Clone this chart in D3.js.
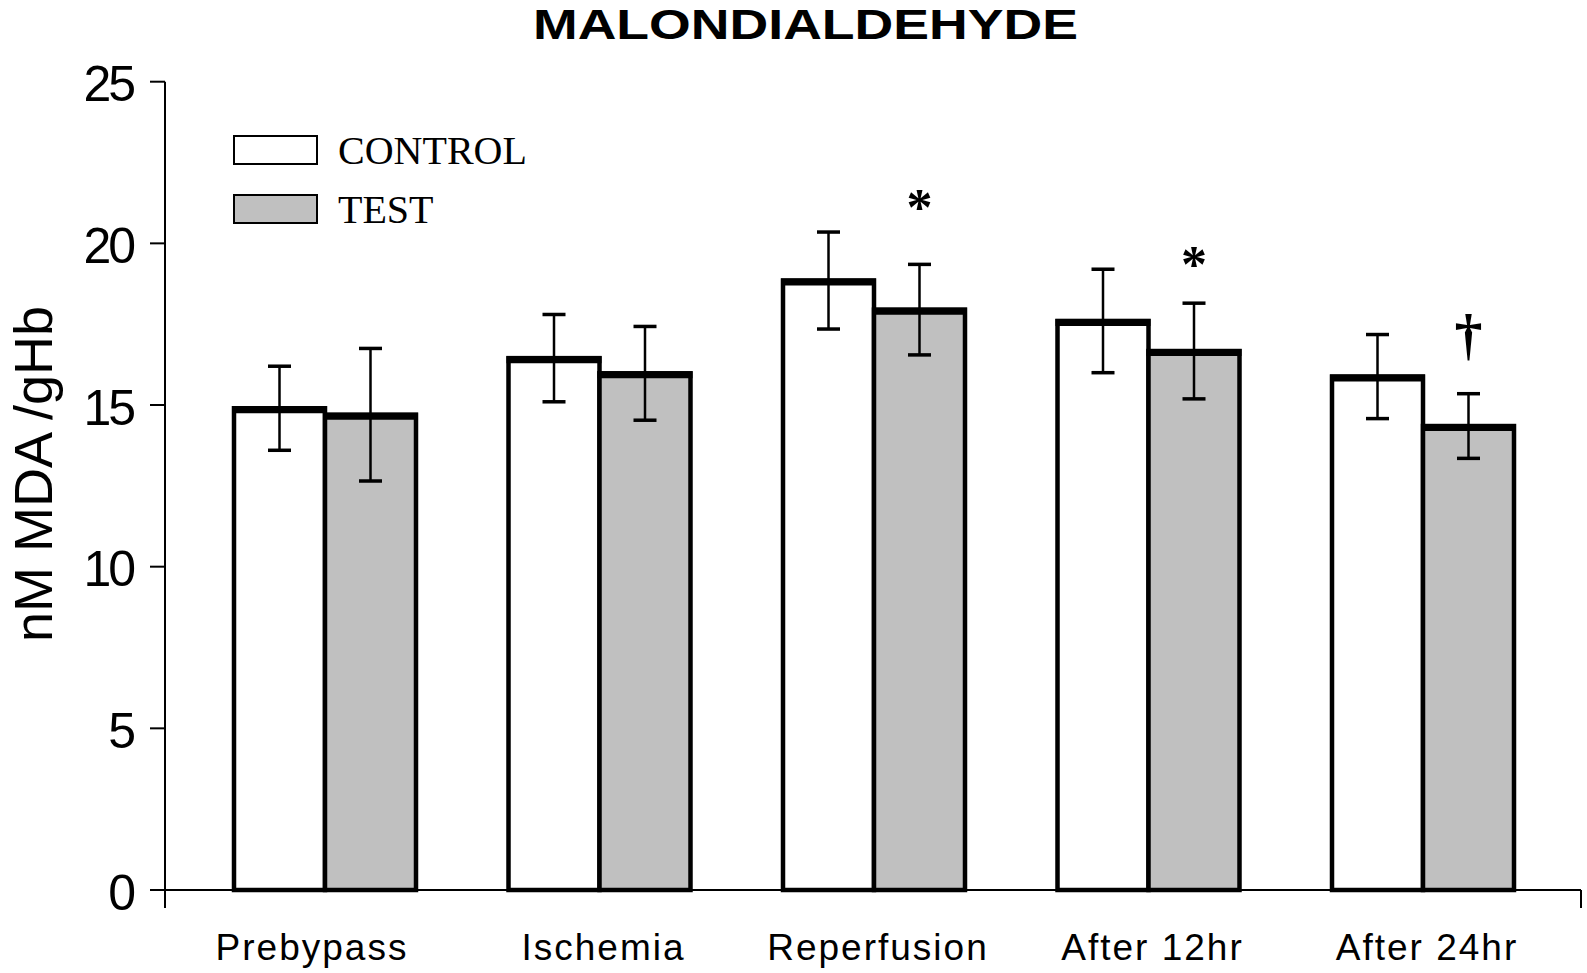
<!DOCTYPE html>
<html>
<head>
<meta charset="utf-8">
<script src="https://cdn.jsdelivr.net/npm/d3@7"></script>
<style>
  body { margin: 0; background: #fff; }
  svg { display: block; }
</style>
</head>
<body>
<div id="chart"></div>
<script>
// données
const categories = ['Prebypass', 'Ischemia', 'Reperfusion', 'After 12hr', 'After 24hr'];
const seriesNames = ['CONTROL', 'TEST'];
const controlMean = [14.9, 16.45, 18.85, 17.6, 15.88];
const controlSE = [1.3, 1.35, 1.5, 1.6, 1.3];
const testMean = [14.7, 15.98, 17.95, 16.67, 14.35];
const testSE = [2.05, 1.45, 1.4, 1.48, 1.0];
const markers = ['', '', '*', '*', '\u2020'];
const markerAt = [null, null, 21.25, 19.5, 17.1];
const yTicks = [0, 5, 10, 15, 20, 25];

const width = 1587, height = 973;
const x0 = 165, x1 = 1581, yTop = 81.7, yBottom = 890;
const sans = 'Liberation Sans, Arial, sans-serif';
const serif = 'Liberation Serif, Times New Roman, serif';

const svg = d3.select('#chart').append('svg')
  .attr('width', width)
  .attr('height', height);

const y = d3.scaleLinear().domain([0, 25]).range([yBottom, yTop]);

const x = d3.scaleBand()
  .domain(categories)
  .range([187.75, 1560.25])
  .paddingInner(0.337)
  .paddingOuter(0.1685);

const xs = d3.scaleBand().domain(seriesNames).range([0, x.bandwidth()]);

const rows = categories.map((c, i) => ({
  cat: c,
  vals: [
    { s: 'CONTROL', v: controlMean[i], e: controlSE[i] },
    { s: 'TEST', v: testMean[i], e: testSE[i] }
  ],
  mark: markers[i],
  markY: markerAt[i]
}));

const fillOf = { CONTROL: '#ffffff', TEST: '#c0c0c0' };

// titre
svg.append('text')
  .attr('x', 805.5).attr('y', 38.5)
  .attr('text-anchor', 'middle')
  .attr('textLength', 545)
  .attr('lengthAdjust', 'spacingAndGlyphs')
  .style('font-family', sans)
  .style('font-weight', 'bold')
  .style('font-size', '42px')
  .text('MALONDIALDEHYDE');

// axe y
svg.append('line')
  .attr('x1', x0).attr('x2', x0)
  .attr('y1', yTop).attr('y2', 908)
  .attr('stroke', '#000').attr('stroke-width', 2);

svg.append('g').selectAll('line')
  .data(yTicks)
  .join('line')
  .attr('x1', 150).attr('x2', x0)
  .attr('y1', d => y(d)).attr('y2', d => y(d))
  .attr('stroke', '#000').attr('stroke-width', 2);

svg.append('g').selectAll('text')
  .data(yTicks)
  .join('text')
  .attr('x', 133)
  .attr('y', d => y(d) + 19.5)
  .attr('text-anchor', 'end')
  .style('font-family', sans)
  .style('font-size', '50px')
  .style('letter-spacing', '-3px')
  .text(d => d);

svg.append('text')
  .attr('transform', 'translate(52,474) rotate(-90)')
  .attr('text-anchor', 'middle')
  .style('font-family', sans)
  .style('font-size', '54px')
  .text('nM MDA /gHb');

// axe x
svg.append('line')
  .attr('x1', x0).attr('x2', x1)
  .attr('y1', yBottom).attr('y2', yBottom)
  .attr('stroke', '#000').attr('stroke-width', 2);
svg.append('line')
  .attr('x1', x1).attr('x2', x1)
  .attr('y1', yBottom).attr('y2', 908)
  .attr('stroke', '#000').attr('stroke-width', 2);

// petit décalage des étiquettes comme dans l'original
const labelNudge = { Prebypass: -17 };

svg.append('g').selectAll('text')
  .data(categories)
  .join('text')
  .attr('x', d => x(d) + x.bandwidth() / 2 + 4 + (labelNudge[d] || 0))
  .attr('y', 960)
  .attr('text-anchor', 'middle')
  .style('font-family', sans)
  .style('font-size', '37px')
  .style('letter-spacing', '2px')
  .text(d => d);

// barres
const groups = svg.append('g').selectAll('g')
  .data(rows)
  .join('g')
  .attr('transform', d => `translate(${x(d.cat)},0)`);

groups.selectAll('rect')
  .data(d => d.vals)
  .join('rect')
  .attr('x', d => xs(d.s))
  .attr('y', d => y(d.v))
  .attr('width', xs.bandwidth())
  .attr('height', d => y(0) - y(d.v))
  .attr('fill', d => fillOf[d.s])
  .attr('stroke', '#000')
  .attr('stroke-width', 4.5);

// bord supérieur épais
groups.selectAll('line.top')
  .data(d => d.vals)
  .join('line')
  .attr('class', 'top')
  .attr('x1', d => xs(d.s) - 2)
  .attr('x2', d => xs(d.s) + xs.bandwidth() + 2)
  .attr('y1', d => y(d.v) + 1.5)
  .attr('y2', d => y(d.v) + 1.5)
  .attr('stroke', '#000')
  .attr('stroke-width', 7);

// barres d'erreur
const err = groups.selectAll('g.err')
  .data(d => d.vals)
  .join('g')
  .attr('class', 'err')
  .attr('transform', d => `translate(${xs(d.s) + xs.bandwidth() / 2},0)`);

err.append('line')
  .attr('y1', d => y(d.v + d.e)).attr('y2', d => y(d.v - d.e))
  .attr('stroke', '#000').attr('stroke-width', 2.5);
err.selectAll('line.cap')
  .data(d => [d.v + d.e, d.v - d.e])
  .join('line')
  .attr('class', 'cap')
  .attr('x1', -11.5).attr('x2', 11.5)
  .attr('y1', d => y(d)).attr('y2', d => y(d))
  .attr('stroke', '#000').attr('stroke-width', 3.5);

// marques de significativité
groups.filter(d => d.mark !== '')
  .append('text')
  .attr('x', xs('TEST') + xs.bandwidth() / 2)
  .attr('y', d => y(d.markY))
  .attr('text-anchor', 'middle')
  .attr('dy', d => d.mark === '*' ? '0.43em' : '0.3em')
  .style('font-family', serif)
  .style('font-weight', 'bold')
  .style('font-size', d => d.mark === '*' ? '52px' : '56px')
  .text(d => d.mark);

// légende
const legend = svg.append('g').selectAll('g')
  .data(seriesNames)
  .join('g')
  .attr('transform', (d, i) => `translate(234,${136 + i * 59})`);

legend.append('rect')
  .attr('width', 83).attr('height', 28)
  .attr('fill', d => fillOf[d])
  .attr('stroke', '#000').attr('stroke-width', 2);

legend.append('text')
  .attr('x', 104).attr('y', 28)
  .style('font-family', serif)
  .style('font-size', '40px')
  .text(d => d);
</script>
</body>
</html>
